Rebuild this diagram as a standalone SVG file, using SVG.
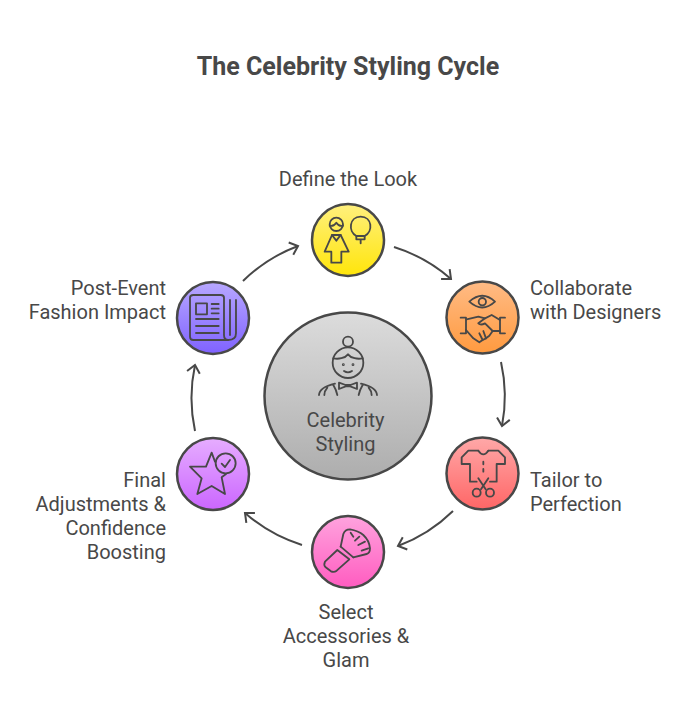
<svg xmlns="http://www.w3.org/2000/svg" width="696" height="720" viewBox="0 0 696 720">
<style>
text{font-family:Roboto,"Liberation Sans",sans-serif;font-size:20px;fill:#484848}
.title{font-size:25px;font-weight:700;text-anchor:middle}
.m{text-anchor:middle}.e{text-anchor:end}
.c{stroke:#484848;stroke-width:2.5}
.i{fill:none;stroke:#484848;stroke-width:5.5;stroke-linecap:round;stroke-linejoin:round}
.a{fill:none;stroke:#484848;stroke-width:2;marker-end:url(#h)}
</style>
<defs>
<marker id="h" markerUnits="userSpaceOnUse" markerWidth="24" markerHeight="24" refX="12" refY="12" orient="auto" overflow="visible"><path d="M4.500 5.500L12 12L4.500 18.500" fill="none" stroke="#484848" stroke-width="2"/></marker>
<linearGradient id="g0" x1="0" y1="0" x2="0" y2="1"><stop offset="0" stop-color="#fff07e"/><stop offset="1" stop-color="#ffe50a"/></linearGradient>
<linearGradient id="g1" x1="0" y1="0" x2="0" y2="1"><stop offset="0" stop-color="#ffbb85"/><stop offset="1" stop-color="#ff9a3f"/></linearGradient>
<linearGradient id="g2" x1="0" y1="0" x2="0" y2="1"><stop offset="0" stop-color="#ffa8a8"/><stop offset="1" stop-color="#ff6666"/></linearGradient>
<linearGradient id="g3" x1="0" y1="0" x2="0" y2="1"><stop offset="0" stop-color="#ffa3de"/><stop offset="1" stop-color="#ff5cc0"/></linearGradient>
<linearGradient id="g4" x1="0" y1="0" x2="0" y2="1"><stop offset="0" stop-color="#e6adff"/><stop offset="1" stop-color="#cb66ff"/></linearGradient>
<linearGradient id="g5" x1="0" y1="0" x2="0" y2="1"><stop offset="0" stop-color="#b8a8ff"/><stop offset="1" stop-color="#7f62ff"/></linearGradient>
<linearGradient id="g6" x1="0" y1="0" x2="0" y2="1"><stop offset="0" stop-color="#dcdcdc"/><stop offset="1" stop-color="#adadad"/></linearGradient>
</defs>
<rect width="696" height="720" fill="#fff"/>
<text class="title" x="348" y="75">The Celebrity Styling Cycle</text>
<g id="connectors">
<path class="a" d="M394 247A157 157 0 0 1 451 279"/>
<path class="a" d="M501 362A157 157 0 0 1 502 426"/>
<path class="a" d="M453 511A157 157 0 0 1 398 546"/>
<path class="a" d="M302 545A157 157 0 0 1 245 513"/>
<path class="a" d="M195 431A157 157 0 0 1 195 365"/>
<path class="a" d="M243 281A157 157 0 0 1 298 246"/>
</g>
<g id="center">
<circle class="c" cx="348" cy="396" r="83.500" fill="url(#g6)"/>
<g class="i" transform="translate(300 325) scale(.3333)">
<circle cx="144" cy="50" r="15"/>
<circle cx="144" cy="113" r="46"/>
<path d="M100 100C115 103 135 100 144 88C153 100 173 103 188 100"/>
<circle cx="130" cy="119" r="1.500"/><circle cx="159" cy="119" r="1.500"/>
<path d="M132 138Q144 146 156 138"/>
<path d="M57 210C58 195 75 183 105 176M82 188C76 195 73 203 73 210M100 180C106 190 110 200 112 210"/>
<path d="M231 210C230 195 213 183 183 176M206 188C212 195 215 203 215 210M188 180C182 190 178 200 176 210"/>
<path d="M117 173L117 192L137 184L151 184L171 192L171 173L151 180L137 180Z"/>
</g>
<text class="m" x="345.500" y="427">Celebrity</text>
<text class="m" x="345.500" y="451">Styling</text>
</g>
<g id="define">
<circle class="c" cx="348" cy="240" r="36" fill="url(#g0)"/>
<g class="i" transform="translate(318 210) scale(.3333)">
<circle cx="55" cy="43" r="20"/>
<path d="M35 47Q47 50 55 38Q63 50 75 47"/>
<path d="M42 75L68 75L92 125L70 125L70 158L40 158L40 125L20 125Z"/>
<path d="M42 75L55 92L68 75"/>
<path d="M115 78C90 65 93 20 128 20C163 20 166 65 140 78"/>
<path d="M115 78L115 88L140 88L140 78ZM128 88L128 100"/>
</g>
<text class="m" x="348" y="186">Define the Look</text>
</g>
<g id="collaborate">
<circle class="c" cx="482.500" cy="317.500" r="36" fill="url(#g1)"/>
<g class="i" transform="translate(450 285) scale(.3333)">
<path d="M58 50Q97 15 135 50Q97 85 58 50Z"/>
<circle cx="97" cy="50" r="11"/>
<path d="M32 98L48 98L48 145L32 145M165 98L150 98L150 145L165 145"/>
<path d="M50 103L85 95L105 100L125 90L150 105"/>
<path d="M48 135L70 160L88 172L98 165L108 160L118 152L128 138L150 138"/>
<path d="M105 100L85 115Q92 122 105 115L128 138M88 145L98 165M100 138L108 160"/>
</g>
<text x="530" y="295">Collaborate</text>
<text x="530" y="319">with Designers</text>
</g>
<g id="tailor">
<circle class="c" cx="482.500" cy="473.500" r="36" fill="url(#g2)"/>
<g class="i" transform="translate(435 430) scale(.3333)">
<path d="M130 62L100 62L80 82L80 102L105 102L105 155L125 155M160 62L190 62L210 82L210 102L185 102L185 155L165 155"/>
<path d="M130 62Q145 84 160 62"/>
<path d="M145 95L145 103M145 117L145 125"/>
<path d="M130 145L152 178M160 145L138 178"/>
<circle cx="125" cy="188" r="12"/><circle cx="165" cy="188" r="12"/>
</g>
<text x="530" y="487">Tailor to</text>
<text x="530" y="511">Perfection</text>
</g>
<g id="accessories">
<circle class="c" cx="348" cy="552" r="36" fill="url(#g3)"/>
<g class="i" transform="translate(320 520) scale(.3333)">
<path d="M52 90L15 125Q10 135 17 142L33 154Q42 158 50 152L88 118Z"/>
<path d="M62 80L100 112"/>
<path d="M62 80L70 42Q75 28 90 28Q115 32 130 45Q148 62 150 85Q150 100 140 102L100 112"/>
<path d="M92 38L100 50M118 50L105 62M135 65L115 75M145 85L125 92"/>
</g>
<text class="m" x="346" y="619">Select</text>
<text class="m" x="346" y="643">Accessories &amp;</text>
<text class="m" x="346" y="667">Glam</text>
</g>
<g id="final">
<circle class="c" cx="213" cy="474" r="36" fill="url(#g4)"/>
<g class="i" transform="translate(170 430) scale(.3333)">
<path d="M135 95L125 68L108 110L60 110L95 145L82 192L125 168L165 192L155 142L168 132"/>
<circle cx="167" cy="100" r="30"/>
<path d="M155 101L165 111L180 90"/>
</g>
<text class="e" x="166" y="487">Final</text>
<text class="e" x="166" y="511">Adjustments &amp;</text>
<text class="e" x="166" y="535">Confidence</text>
<text class="e" x="166" y="559">Boosting</text>
</g>
<g id="impact">
<circle class="c" cx="213" cy="318" r="36" fill="url(#g5)"/>
<g class="i" transform="translate(170 275) scale(.3333)">
<path d="M175 195L70 195Q60 195 60 185L60 68Q60 60 70 60L152 60Q162 60 162 68L162 180Q162 195 175 195Q198 195 198 175L198 75M180 75L180 180"/>
<rect x="78" y="85" width="33" height="33"/>
<path d="M125 87L146 87M125 101L146 101M125 115L146 115M78 132L146 132M78 153L146 153M78 174L146 174"/>
</g>
<text class="e" x="166" y="295">Post-Event</text>
<text class="e" x="166" y="319">Fashion Impact</text>
</g>
</svg>
